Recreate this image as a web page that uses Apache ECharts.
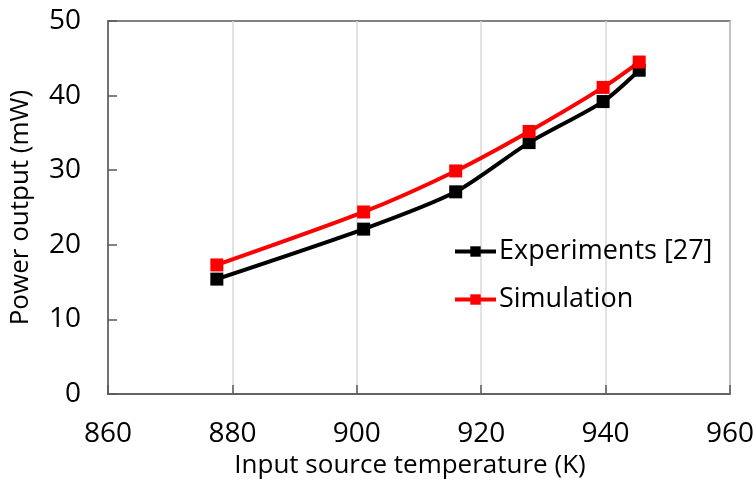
<!DOCTYPE html>
<html>
<head>
<meta charset="utf-8">
<script src="https://cdn.jsdelivr.net/npm/echarts@6/dist/echarts.min.js"></script>
<style>html,body{margin:0;padding:0;background:#fff;}#c{width:754px;height:498px;}</style>
</head>
<body>
<div id="c"></div>
<script>
const temps = [877.5, 901.1, 915.9, 927.7, 939.6, 945.4];
const experiments = [15.4, 22.1, 27.1, 33.7, 39.2, 43.4];
const simulation = [17.3, 24.4, 29.9, 35.2, 41.1, 44.5];
const seriesNames = ['Experiments [27]', 'Simulation'];
const FONT = '"Open Sans", "Liberation Sans", sans-serif';

const chart = echarts.init(document.getElementById('c'));
chart.setOption({
  animation: false,
  backgroundColor: '#fff',
  textStyle: { fontFamily: FONT },
  grid: { left: 108, right: 24, top: 21, bottom: 104, show: true, borderColor: '#595959', borderWidth: 1.5, containLabel: false, outerBoundsMode: 'none' },
  legend: {
    orient: 'vertical', left: 453, top: 238, padding: 0, itemWidth: 41, itemHeight: 13, itemGap: 21,
    lineStyle: { width: 4 },
    textStyle: { fontSize: 27, color: '#000', fontFamily: FONT, padding: [0, 0, 0, -2] },
    data: seriesNames
  },
  xAxis: {
    type: 'value', min: 860, max: 960, interval: 20,
    name: 'Input source temperature (K)', nameLocation: 'middle', nameGap: 59,
    nameTextStyle: { fontSize: 26, color: '#000', fontFamily: FONT, padding: [0, 18, 0, 0] },
    axisLine: { show: true, lineStyle: { color: '#595959', width: 1.5 } },
    axisTick: { show: true, inside: true, length: 9, lineStyle: { color: '#595959', width: 1.5 } },
    axisLabel: { fontSize: 28, color: '#000', margin: 26, fontFamily: FONT },
    splitLine: { show: true, lineStyle: { color: '#d9d9d9', width: 1.5 } }
  },
  yAxis: {
    type: 'value', min: 0, max: 50, interval: 10,
    name: 'Power output (mW)', nameLocation: 'middle', nameGap: 74,
    nameTextStyle: { fontSize: 26, color: '#000', fontFamily: FONT, padding: [0, 0, 0, 0] },
    axisLine: { show: true, lineStyle: { color: '#595959', width: 1.5 } },
    axisTick: { show: true, inside: true, length: 9, lineStyle: { color: '#595959', width: 1.5 } },
    axisLabel: { fontSize: 28, color: '#000', margin: 27, fontFamily: FONT },
    splitLine: { show: false }
  },
  series: [
    {
      name: seriesNames[0], type: 'line', smooth: 0.25,
      data: temps.map((t, i) => [t, experiments[i]]),
      symbol: 'rect', symbolSize: 13,
      lineStyle: { color: '#000', width: 4 },
      itemStyle: { color: '#000' }
    },
    {
      name: seriesNames[1], type: 'line', smooth: 0.25,
      data: temps.map((t, i) => [t, simulation[i]]),
      symbol: 'rect', symbolSize: 13,
      lineStyle: { color: '#ff0000', width: 4 },
      itemStyle: { color: '#ff0000' }
    }
  ]
});
</script>
</body>
</html>
